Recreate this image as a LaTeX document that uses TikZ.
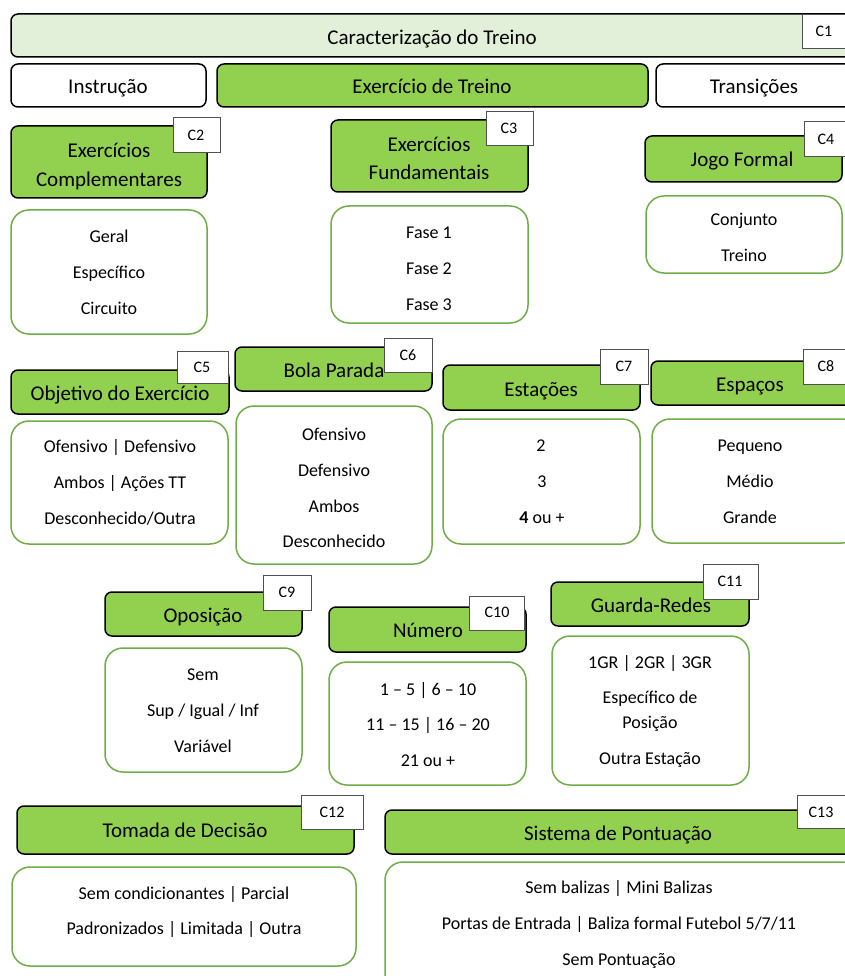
\documentclass[tikz,border=0pt]{standalone}
\usepackage{fontspec}
\setmainfont{Carlito}
\definecolor{xgreen}{RGB}{146,208,80}
\definecolor{xlight}{RGB}{226,240,217}
\definecolor{lgreen}{RGB}{112,173,71}
\definecolor{tagline}{RGB}{80,80,80}
\tikzset{
  hdr/.style={draw=black, line width=1.5pt, fill=xgreen, rounded corners=7pt, inner sep=0pt,
    align=center, font=\fontsize{21}{29}\selectfont},
  wbox/.style={hdr, fill=white},
  topbox/.style={hdr, fill=xlight},
  lst/.style={draw=lgreen, line width=1.5pt, fill=white, rounded corners=18pt, inner sep=0pt},
  tagbox/.style={draw=tagline, line width=0.8pt, fill=white, inner sep=0pt},
  tagt/.style={inner sep=0pt, font=\fontsize{16}{18}\selectfont},
  itm/.style={inner sep=0pt, text height=0.7em, text depth=0.25em, yshift=-3pt, font=\fontsize{18}{20}\selectfont},
  hdt/.style={inner sep=0pt, text height=0.7em, text depth=0.25em, yshift=-4pt, font=\fontsize{21}{24}\selectfont},
}
\newcommand\bx[7]{\node[#1, minimum width={(#5)-(#3)}, minimum height={(#6)-(#4)}] (#2) at ({((#3)+(#5))/2},{((#4)+(#6))/2}) {#7};}
\begin{document}
\begin{tikzpicture}[x=1pt,y=-1pt]
\useasboundingbox (0,0) rectangle (844,976);
% row 1
\bx{topbox}{top}{11}{14}{860}{57}{}
\node[hdt] (toptxt) at (432,38) {Caracterização do Treino};
\bx{tagbox}{c1}{802}{14}{860}{48}{}
\node[tagt] (c1t) at (824,31) {C1};
% row 2
\bx{wbox}{instr}{11}{64}{206}{107}{}
\node[hdt] (instrt) at (108,87) {Instrução};
\bx{hdr}{exer}{217}{64}{648}{107}{}
\node[hdt] (exert) at (432,87) {Exercício de Treino};
\bx{wbox}{trans}{656}{64}{860}{107}{}
\node[hdt] (transt) at (754,87) {Transições};
% C2
\bx{hdr}{h2}{11}{126}{207}{198}{}
\node[hdt] (h2a) at (109,151) {Exercícios};
\node[hdt] (h2b) at (109,180) {Complementares};
\bx{tagbox}{c2}{173}{117}{220}{152}{}
\node[tagt] (c2t) at (196,135) {C2};
\bx{lst}{l2}{11}{210}{207}{334}{}
\node[itm] (i21) at (109,237) {Geral};
\node[itm] (i22) at (109,273) {Específico};
\node[itm] (i23) at (109,309) {Circuito};
% C3
\bx{hdr}{h3}{331}{120}{528}{192}{}
\node[hdt] (h3a) at (429,145) {Exercícios};
\node[hdt] (h3b) at (429,173) {Fundamentais};
\bx{tagbox}{c3}{486}{111}{533}{145}{}
\node[tagt] (c3t) at (509,128) {C3};
\bx{lst}{l3}{331}{206}{528}{323}{}
\node[itm] (i31) at (429,233) {Fase 1};
\node[itm] (i32) at (429,269) {Fase 2};
\node[itm] (i33) at (429,305) {Fase 3};
% C4
\bx{hdr}{h4}{645}{136}{842}{182}{}
\node[hdt] (h4t) at (742,160) {Jogo Formal};
\bx{tagbox}{c4}{804}{121}{860}{156}{}
\node[tagt] (c4t) at (826,139) {C4};
\bx{lst}{l4}{646}{196}{842}{273}{}
\node[itm] (i41) at (744,220) {Conjunto};
\node[itm] (i42) at (744,256) {Treino};
% C5
\bx{hdr}{h5}{11}{370}{229}{414}{}
\node[hdt] (h5t) at (120,394) {Objetivo do Exercício};
\bx{tagbox}{c5}{177}{351}{228}{383}{}
\node[tagt] (c5t) at (202,367) {C5};
\bx{lst}{l5}{11}{421}{228}{544}{}
\node[itm] (i51) at (120,447) {Ofensivo | Defensivo};
\node[itm] (i52) at (120,483) {Ambos | Ações TT};
\node[itm] (i53) at (120,519) {Desconhecido/Outra};
% C6
\bx{hdr}{h6}{235}{347}{432}{391}{}
\node[hdt] (h6t) at (334,371) {Bola Parada};
\bx{tagbox}{c6}{384}{338}{432}{372}{}
\node[tagt] (c6t) at (408,355) {C6};
\bx{lst}{l6}{236}{406}{432}{564}{}
\node[itm] (i61) at (334,435) {Ofensivo};
\node[itm] (i62) at (334,471) {Defensivo};
\node[itm] (i63) at (334,507) {Ambos};
\node[itm] (i64) at (334,542) {Desconhecido};
% C7
\bx{hdr}{h7}{443}{365}{640}{410}{}
\node[hdt] (h7t) at (541,390) {Estações};
\bx{tagbox}{c7}{600}{349}{648}{384}{}
\node[tagt] (c7t) at (624,366) {C7};
\bx{lst}{l7}{443}{419}{640}{544}{}
\node[itm] (i71) at (541,446) {2};
\node[itm] (i72) at (542,482) {3};
\node[itm] (i73) at (542,518) {\textbf{4} ou +};
% C8
\bx{hdr}{h8}{651}{361}{860}{405}{}
\node[hdt] (h8t) at (750,385) {Espaços};
\bx{tagbox}{c8}{803}{349}{860}{384}{}
\node[tagt] (c8t) at (826,366) {C8};
\bx{lst}{l8}{652}{419}{860}{543}{}
\node[itm] (i81) at (750,446) {Pequeno};
\node[itm] (i82) at (750,482) {Médio};
\node[itm] (i83) at (750,518) {Grande};
% C9
\bx{hdr}{h9}{105}{592}{302}{636}{}
\node[hdt] (h9t) at (203,616) {Oposição};
\bx{tagbox}{c9}{263}{575}{311}{610}{}
\node[tagt] (c9t) at (287,592) {C9};
\bx{lst}{l9}{105}{648}{302}{772}{}
\node[itm] (i91) at (203,675) {Sem};
\node[itm] (i92) at (203,711) {Sup / Igual / Inf};
\node[itm] (i93) at (203,747) {Variável};
% C10
\bx{hdr}{h10}{329}{607}{526}{652}{}
\node[hdt] (h10t) at (428,631) {Número};
\bx{tagbox}{c10}{469}{596}{524}{630}{}
\node[tagt] (c10t) at (497,612) {C10};
\bx{lst}{l10}{329}{662}{526}{785}{}
\node[itm] (i101) at (428,690) {1 – 5 | 6 – 10};
\node[itm] (i102) at (428,725) {11 – 15 | 16 – 20};
\node[itm] (i103) at (428,761) {21 ou +};
% C11
\bx{hdr}{h11}{551}{582}{749}{626}{}
\node[hdt] (h11t) at (651,606) {Guarda-Redes};
\bx{tagbox}{c11}{703}{564}{758}{599}{}
\node[tagt] (c11t) at (730,581) {C11};
\bx{lst}{l11}{552}{636}{749}{785}{}
\node[itm] (i111) at (650,663) {1GR | 2GR | 3GR};
\node[itm] (i112) at (650,698) {Específico de};
\node[itm] (i113) at (650,723) {Posição};
\node[itm] (i114) at (650,759) {Outra Estação};
% C12
\bx{hdr}{h12}{17}{806}{354}{854}{}
\node[hdt] (h12t) at (185,831) {Tomada de Decisão};
\bx{tagbox}{c12}{301}{795}{363}{829}{}
\node[tagt] (c12t) at (332,812) {C12};
\bx{lst}{l12}{12}{867}{356}{966}{}
\node[itm] (i121) at (184,894) {Sem condicionantes | Parcial};
\node[itm] (i122) at (184,929) {Padronizados | Limitada | Outra};
% C13
\bx{hdr}{h13}{385}{810}{860}{854}{}
\node[hdt] (h13t) at (618,834) {Sistema de Pontuação};
\bx{tagbox}{c13}{797}{795}{860}{828}{}
\node[tagt] (c13t) at (821,812) {C13};
\bx{lst}{l13}{385}{862}{860}{1000}{}
\node[itm] (i131) at (619,888) {Sem balizas | Mini Balizas};
\node[itm] (i132) at (619,924) {Portas de Entrada | Baliza formal Futebol 5/7/11};
\node[itm] (i133) at (619,960) {Sem Pontuação};
\end{tikzpicture}
\end{document}
